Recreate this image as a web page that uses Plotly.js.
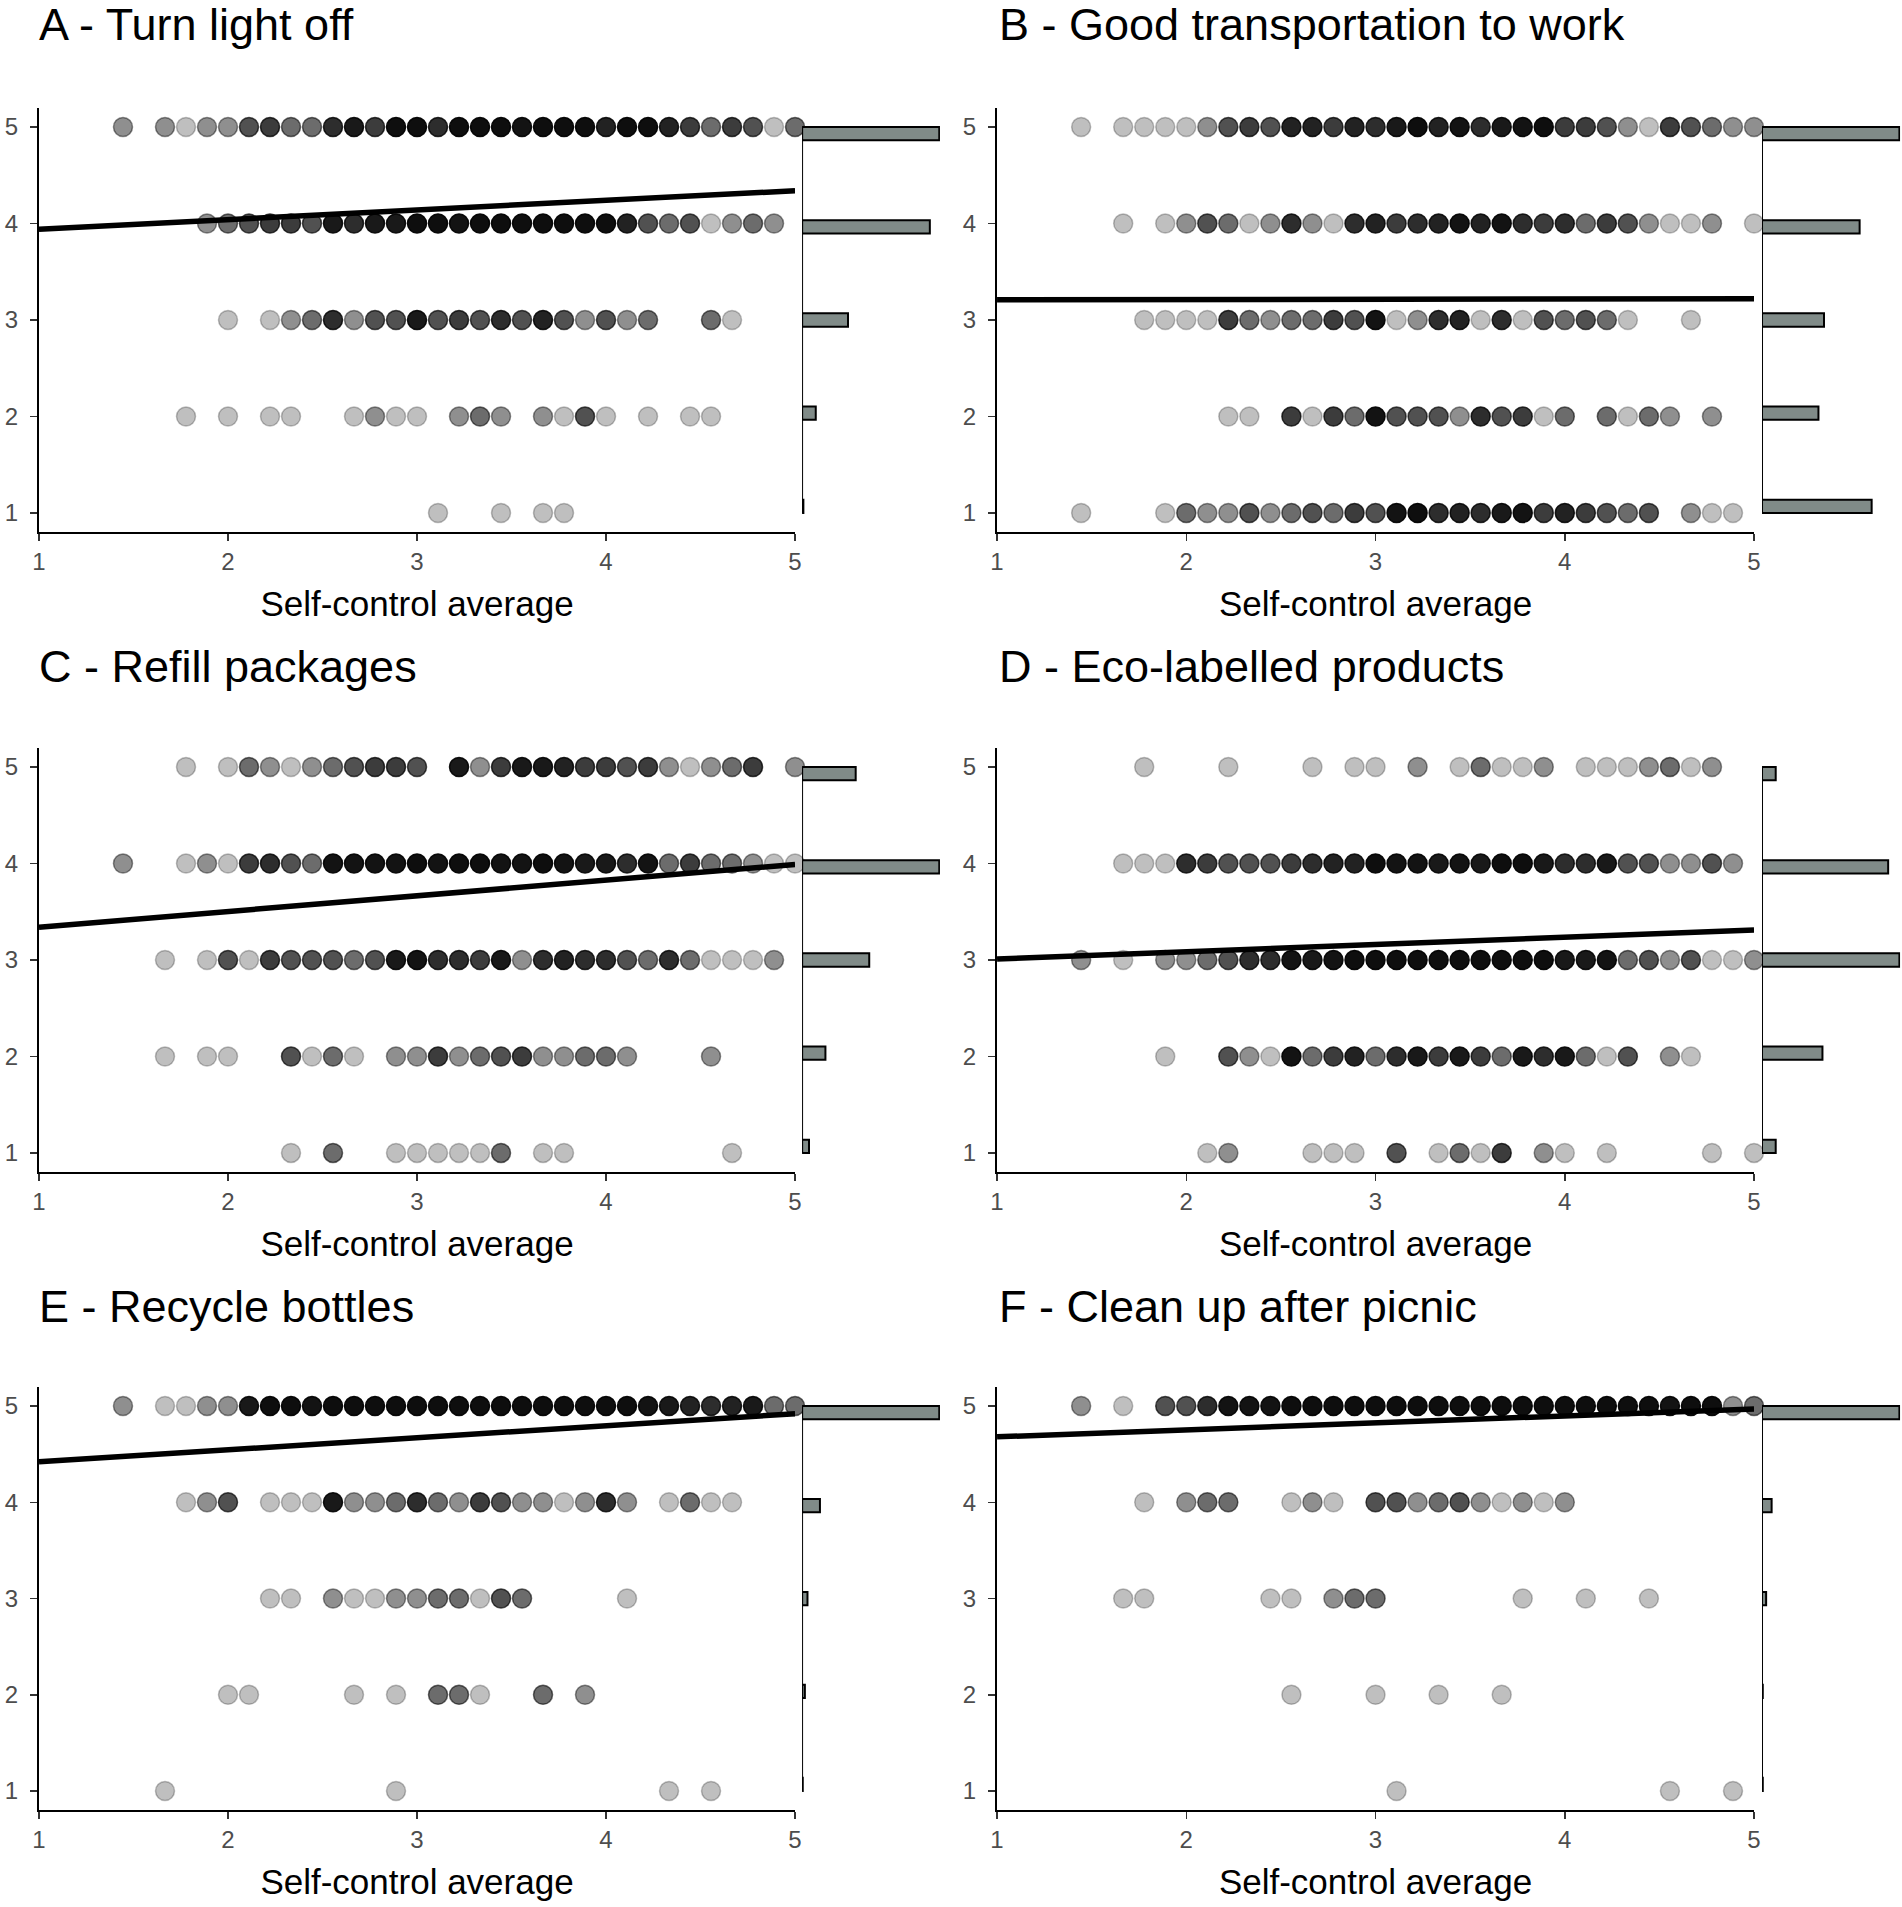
<!DOCTYPE html>
<html>
<head>
<meta charset="utf-8">
<script src="https://cdn.plot.ly/plotly-3.0.1.min.js"></script>
<style>
  html, body { margin: 0; padding: 0; background: #fff; }
  #chart { width: 1902px; height: 1907px; }
</style>
</head>
<body>
<div id="chart"></div>
<script>
// Panel titles, in reading order
const panelTitles = [
  'A - Turn light off',
  'B - Good transportation to work',
  'C - Refill packages',
  'D - Eco-labelled products',
  'E - Recycle bottles',
  'F - Clean up after picnic'
];

// Response levels (y) and self-control average steps: x = 1 + step/9
const levels = [1, 2, 3, 4, 5];
const nItems = 9;

// Respondents per (step, count) for each response level 1..5
const lightOff = [
  [[19,1],[22,1],[24,1],[25,1]],
  [[7,1],[9,1],[11,1],[12,1],[15,1],[16,2],[17,1],[18,1],[20,2],[21,3],[22,2],[24,2],[25,1],[26,4],[27,1],[29,1],[31,1],[32,1]],
  [[9,1],[11,1],[12,2],[13,3],[14,6],[15,2],[16,4],[17,4],[18,8],[19,4],[20,5],[21,4],[22,6],[23,4],[24,7],[25,4],[26,2],[27,4],[28,2],[29,3],[32,3],[33,1]],
  [[8,2],[9,3],[10,4],[11,5],[12,5],[13,4],[14,8],[15,6],[16,8],[17,8],[18,10],[19,10],[20,9],[21,10],[22,10],[23,10],[24,10],[25,10],[26,10],[27,10],[28,7],[29,4],[30,3],[31,4],[32,1],[33,2],[34,3],[35,2]],
  [[4,2],[6,2],[7,1],[8,2],[9,2],[10,4],[11,5],[12,3],[13,3],[14,6],[15,8],[16,5],[17,10],[18,10],[19,6],[20,10],[21,10],[22,10],[23,9],[24,10],[25,10],[26,10],[27,7],[28,10],[29,10],[30,7],[31,5],[32,3],[33,5],[34,4],[35,1],[36,3]]
];
const transport = [
  [[4,1],[8,1],[9,3],[10,2],[11,2],[12,4],[13,2],[14,3],[15,4],[16,3],[17,5],[18,4],[19,9],[20,10],[21,6],[22,7],[23,6],[24,8],[25,9],[26,5],[27,7],[28,5],[29,4],[30,3],[31,4],[33,2],[34,1],[35,1]],
  [[11,1],[12,1],[14,5],[15,1],[16,5],[17,3],[18,9],[19,4],[20,4],[21,4],[22,2],[23,6],[24,4],[25,5],[26,1],[27,3],[29,3],[30,1],[31,3],[32,2],[34,2]],
  [[7,1],[8,1],[9,1],[10,1],[11,5],[12,3],[13,2],[14,3],[15,3],[16,5],[17,4],[18,9],[19,1],[20,2],[21,6],[22,7],[23,1],[24,6],[25,1],[26,4],[27,3],[28,4],[29,3],[30,1],[33,1]],
  [[6,1],[8,1],[9,2],[10,4],[11,3],[12,1],[13,2],[14,6],[15,2],[16,1],[17,6],[18,7],[19,5],[20,6],[21,7],[22,9],[23,7],[24,9],[25,6],[26,5],[27,6],[28,3],[29,5],[30,4],[31,2],[32,1],[33,1],[34,2],[36,1]],
  [[4,1],[6,1],[7,1],[8,1],[9,1],[10,2],[11,4],[12,5],[13,4],[14,7],[15,7],[16,5],[17,7],[18,6],[19,8],[20,10],[21,7],[22,9],[23,6],[24,8],[25,9],[26,10],[27,5],[28,5],[29,4],[30,2],[31,1],[32,5],[33,4],[34,3],[35,2],[36,2]]
];
const refill = [
  [[12,1],[14,3],[17,1],[18,1],[19,1],[20,1],[21,1],[22,3],[24,1],[25,1],[33,1]],
  [[6,1],[8,1],[9,1],[12,4],[13,1],[14,3],[15,1],[17,2],[18,2],[19,5],[20,2],[21,3],[22,4],[23,5],[24,2],[25,2],[26,3],[27,3],[28,2],[32,2]],
  [[6,1],[8,1],[9,4],[10,1],[11,5],[12,4],[13,4],[14,4],[15,3],[16,4],[17,8],[18,9],[19,6],[20,6],[21,5],[22,8],[23,2],[24,6],[25,7],[26,6],[27,6],[28,4],[29,3],[30,6],[31,3],[32,1],[33,1],[34,1],[35,2]],
  [[4,2],[7,1],[8,2],[9,1],[10,5],[11,6],[12,4],[13,3],[14,9],[15,9],[16,9],[17,9],[18,10],[19,9],[20,10],[21,10],[22,9],[23,9],[24,10],[25,9],[26,8],[27,8],[28,6],[29,9],[30,3],[31,5],[32,3],[33,3],[34,2],[35,1],[36,1]],
  [[7,1],[9,1],[10,3],[11,2],[12,1],[13,2],[14,3],[15,4],[16,5],[17,5],[18,4],[20,8],[21,2],[22,5],[23,8],[24,8],[25,7],[26,5],[27,5],[28,4],[29,5],[30,2],[31,1],[32,2],[33,3],[34,5],[36,2]]
];
const ecoLabel = [
  [[10,1],[11,2],[15,1],[16,1],[17,1],[19,4],[21,1],[22,3],[23,1],[24,5],[26,2],[27,1],[29,1],[34,1],[36,1]],
  [[8,1],[11,4],[12,2],[13,1],[14,9],[15,3],[16,5],[17,7],[18,3],[19,6],[20,8],[21,5],[22,8],[23,5],[24,3],[25,8],[26,6],[27,8],[28,3],[29,1],[30,4],[32,2],[33,1]],
  [[4,2],[6,1],[8,2],[9,2],[10,3],[11,4],[12,6],[13,6],[14,9],[15,8],[16,9],[17,10],[18,10],[19,10],[20,10],[21,10],[22,10],[23,10],[24,10],[25,10],[26,10],[27,8],[28,8],[29,9],[30,3],[31,4],[32,2],[33,4],[34,1],[35,1],[36,2]],
  [[6,1],[7,1],[8,1],[9,6],[10,5],[11,4],[12,4],[13,4],[14,5],[15,6],[16,7],[17,7],[18,10],[19,9],[20,9],[21,8],[22,9],[23,8],[24,10],[25,10],[26,8],[27,6],[28,6],[29,8],[30,4],[31,4],[32,2],[33,2],[34,4],[35,2]],
  [[7,1],[11,1],[15,1],[17,1],[18,1],[20,2],[22,1],[23,3],[24,1],[25,1],[26,2],[28,1],[29,1],[30,1],[31,2],[32,3],[33,1],[34,2]]
];
const recycle = [
  [[6,1],[17,1],[30,1],[32,1]],
  [[9,1],[10,1],[15,1],[17,1],[19,3],[20,3],[21,1],[24,3],[26,2]],
  [[11,1],[12,1],[14,2],[15,1],[16,1],[17,2],[18,2],[19,3],[20,3],[21,1],[22,4],[23,3],[28,1]],
  [[7,1],[8,2],[9,4],[11,1],[12,1],[13,1],[14,8],[15,2],[16,2],[17,3],[18,6],[19,3],[20,2],[21,5],[22,4],[23,2],[24,2],[25,1],[26,2],[27,6],[28,2],[30,1],[31,3],[32,1],[33,1]],
  [[4,2],[6,1],[7,1],[8,2],[9,2],[10,8],[11,10],[12,10],[13,9],[14,10],[15,10],[16,10],[17,10],[18,10],[19,10],[20,10],[21,10],[22,10],[23,10],[24,10],[25,10],[26,10],[27,10],[28,10],[29,9],[30,8],[31,7],[32,6],[33,7],[34,8],[35,3],[36,3]]
];
const picnic = [
  [[19,1],[32,1],[35,1]],
  [[14,1],[18,1],[21,1],[24,1]],
  [[6,1],[7,1],[13,1],[14,1],[16,2],[17,3],[18,3],[25,1],[28,1],[31,1]],
  [[7,1],[9,2],[10,3],[11,3],[14,1],[15,2],[16,1],[18,4],[19,4],[20,2],[21,3],[22,4],[23,2],[24,1],[25,2],[26,1],[27,2]],
  [[4,2],[6,1],[8,4],[9,4],[10,6],[11,9],[12,9],[13,9],[14,10],[15,10],[16,10],[17,10],[18,10],[19,10],[20,10],[21,10],[22,10],[23,10],[24,10],[25,10],[26,10],[27,10],[28,10],[29,10],[30,10],[31,10],[32,9],[33,10],[34,10],[35,2],[36,3]]
];
const panelPoints = [lightOff, transport, refill, ecoLabel, recycle, picnic];

// Linear fit: predicted response at self-control 1 and 5
const fitAt1 = [3.94, 3.21, 3.34, 3.01, 4.42, 4.68];
const fitAt5 = [4.34, 3.22, 3.99, 3.31, 4.92, 4.97];

// Marginal histogram: share of respondents (%) per response level 1..5
const shareA = [0.4, 4.2, 14.1, 39.2, 42.1];
const shareB = [23.7, 12.2, 13.4, 21.1, 29.7];
const shareC = [2.4, 8.1, 23.3, 47.6, 18.6];
const shareD = [3.9, 17.2, 39.1, 35.9, 3.9];
const shareE = [0.4, 1.7, 3.3, 10.9, 83.7];
const shareF = [0.5, 0.5, 2.7, 6.3, 90.1];
const panelShares = [shareA, shareB, shareC, shareD, shareE, shareF];

const ALPHA = 0.25;
const FONT = 'Liberation Sans, Arial, sans-serif';
const binWidth = 4 / 29;   // 30 histogram bins over 1..5

// domains in paper units (figure 1902 x 1907)
const mainX = [[0.0205, 0.4180], [0.5242, 0.9222]];
const margX = [[0.4217, 0.4942], [0.9264, 0.9990]];
const rowY = [[0.7209, 0.9435], [0.3853, 0.6079], [0.0507, 0.2728]];
const titleY = [0.9872, 0.6506, 0.3150];
const titleX = [0.0195, 0.5240];

function binCenter(v) {
  const b = Math.min(Math.floor((v - 1) / binWidth), 28);
  return 1 + (b + 0.5) * binWidth;
}

let data = [];
let layout = {
  width: 1902, height: 1907,
  margin: {l: 0, r: 0, t: 0, b: 0},
  paper_bgcolor: '#fff', plot_bgcolor: 'rgba(0,0,0,0)',
  showlegend: false,
  font: {family: FONT, color: '#000'},
  annotations: []
};

for (let i = 0; i < 6; i++) {
  const col = i % 2, row = Math.floor(i / 2);
  const xa = 'x' + (i + 1), ya = 'y' + (i + 1), xm = 'x' + (i + 7);

  // dots: overlapping respondents shown as stacked transparency
  let x = [], y = [], colors = [];
  panelPoints[i].forEach((pairs, li) => {
    for (const [step, n] of pairs) {
      x.push(1 + step / nItems);
      y.push(levels[li]);
      colors.push('rgba(0,0,0,' + (1 - Math.pow(1 - ALPHA, n)).toFixed(3) + ')');
    }
  });
  data.push({
    type: 'scatter', mode: 'markers', x: x, y: y, xaxis: xa, yaxis: ya,
    cliponaxis: false, hoverinfo: 'skip',
    marker: {size: 19, color: colors, line: {color: colors, width: 1.5}}
  });

  // regression line
  data.push({
    type: 'scatter', mode: 'lines', x: [1, 5], y: [fitAt1[i], fitAt5[i]],
    xaxis: xa, yaxis: ya, cliponaxis: false, hoverinfo: 'skip',
    line: {color: '#000', width: 5.5}
  });

  // marginal histogram
  data.push({
    type: 'scatter', mode: 'lines', x: [0, 0], y: [1, 5], xaxis: xm, yaxis: ya,
    cliponaxis: false, hoverinfo: 'skip', line: {color: '#000', width: 2}
  });
  data.push({
    type: 'bar', orientation: 'h', x: panelShares[i], y: levels.map(binCenter),
    width: binWidth, base: 0, xaxis: xm, yaxis: ya, hoverinfo: 'skip', cliponaxis: false,
    marker: {color: '#808b88', line: {color: '#000', width: 2}}
  });

  const k = i === 0 ? '' : (i + 1);
  layout['xaxis' + k] = {
    domain: mainX[col], anchor: ya, range: [1, 5],
    showline: true, linecolor: '#000', linewidth: 2,
    ticks: 'outside', ticklen: 7, tickwidth: 1.5, tickcolor: '#333',
    tickvals: [1, 2, 3, 4, 5], tickfont: {size: 24, color: '#4d4d4d', family: FONT},
    showgrid: false, zeroline: false,
    title: {text: 'Self-control average', font: {size: 35, color: '#000', family: FONT}, standoff: 17}
  };
  layout['yaxis' + k] = {
    domain: rowY[row], anchor: xa, range: [0.8, 5.2],
    showline: true, linecolor: '#000', linewidth: 2,
    ticks: 'outside', ticklen: 7, tickwidth: 1.5, tickcolor: '#333',
    ticklabelstandoff: 7,
    tickvals: levels, tickfont: {size: 24, color: '#4d4d4d', family: FONT},
    showgrid: false, zeroline: false
  };
  layout['xaxis' + (i + 7)] = {
    domain: margX[col], anchor: ya, range: [0, Math.max(...panelShares[i]) * 1.005],
    visible: false, showgrid: false, zeroline: false
  };
  layout.annotations.push({
    text: panelTitles[i], xref: 'paper', yref: 'paper',
    x: titleX[col], y: titleY[row], xanchor: 'left', yanchor: 'middle',
    showarrow: false, font: {size: 45, color: '#000', family: FONT}
  });
}

Plotly.newPlot('chart', data, layout, {staticPlot: true});
</script>
</body>
</html>
